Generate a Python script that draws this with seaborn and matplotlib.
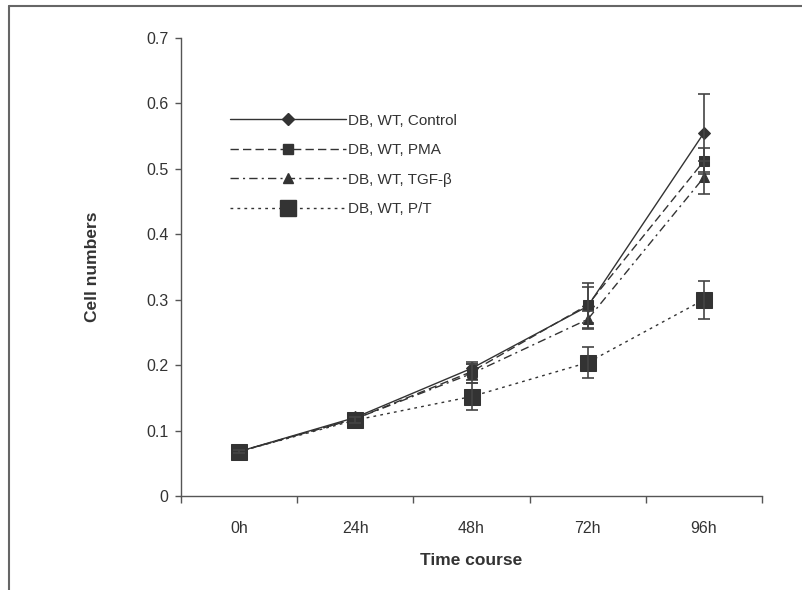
import numpy as np
import pandas as pd
import matplotlib
matplotlib.use("Agg")
import matplotlib.pyplot as plt
import seaborn as sns
from matplotlib.lines import Line2D

# Values
timepoints = ["0h", "24h", "48h", "72h", "96h"]
series_names = ["DB, WT, Control", "DB, WT, PMA", "DB, WT, TGF-\u03b2", "DB, WT, P/T"]
control = [0.068, 0.120, 0.195, 0.290, 0.555]
control_err = [0.003, 0.004, 0.010, 0.035, 0.060]
pma = [0.068, 0.118, 0.190, 0.292, 0.512]
pma_err = [0.003, 0.004, 0.012, 0.028, 0.020]
tgf = [0.068, 0.118, 0.187, 0.270, 0.487]
tgf_err = [0.003, 0.004, 0.015, 0.013, 0.025]
pt = [0.068, 0.116, 0.152, 0.204, 0.300]
pt_err = [0.003, 0.004, 0.021, 0.023, 0.029]

sns.set_theme(style="white")
plt.rcParams["font.family"] = ["Liberation Sans", "DejaVu Sans"]

col = "#333333"
styles = [
    dict(linestyle="-", marker="D", markersize=6.5),
    dict(linestyle=(0, (6, 3)), marker="s", markersize=6.5),
    dict(linestyle=(0, (6, 3, 1.5, 3)), marker="^", markersize=7.5),
    dict(linestyle=(0, (2, 3)), marker="s", markersize=11.5),
]
values = [control, pma, tgf, pt]
errors = [control_err, pma_err, tgf_err, pt_err]

fig = plt.figure(figsize=(8.03, 5.90), dpi=100)
ax = fig.add_axes([0.2254, 0.1593, 0.949 - 0.2254, 0.9356 - 0.1593])

xpos = np.arange(len(timepoints))
handles = []
for name, vals, errs, st in zip(series_names, values, errors, styles):
    df = pd.DataFrame({"x": xpos, "y": vals})
    sns.lineplot(data=df, x="x", y="y", ax=ax, color=col, linewidth=1.0,
                 linestyle=st["linestyle"], marker=st["marker"],
                 markersize=st["markersize"], markeredgecolor=col,
                 markerfacecolor=col, legend=False)
    ax.errorbar(xpos, vals, yerr=errs, fmt="none", ecolor="#444444",
                elinewidth=1.2, capsize=4, capthick=1.2)
    handles.append(Line2D([0], [0], color=col, linewidth=1.0,
                          linestyle=st["linestyle"], marker=st["marker"],
                          markersize=st["markersize"], markerfacecolor=col,
                          markeredgecolor=col))

ax.legend(handles, series_names, loc="upper left", bbox_to_anchor=(0.084, 0.835),
          frameon=False, handlelength=7.6, fontsize=11, labelspacing=1.02,
          handletextpad=0.15, borderpad=0, borderaxespad=0, labelcolor="#333333")

ax.set_xlim(-0.5, 4.5)
ax.set_ylim(0, 0.7)
ax.set_yticks(np.arange(0, 0.71, 0.1))
ax.set_yticklabels(["0", "0.1", "0.2", "0.3", "0.4", "0.5", "0.6", "0.7"])
ax.set_xticks(xpos)
ax.set_xticklabels(timepoints)
ax.set_xticks(np.arange(-0.5, 4.6, 1.0), minor=True)
ax.tick_params(axis="x", which="major", length=0, pad=18, labelsize=11.5, colors="#333333")
ax.tick_params(axis="x", which="minor", length=5, width=1, color="#555555", direction="out", bottom=True)
ax.tick_params(axis="y", length=4, width=1, color="#555555", direction="out", left=True,
               labelsize=11.5, labelcolor="#333333", pad=5)

for side in ["top", "right"]:
    ax.spines[side].set_visible(False)
for side in ["left", "bottom"]:
    ax.spines[side].set_color("#555555")
    ax.spines[side].set_linewidth(1.0)

ax.set_xlabel("Time course", fontsize=12.5, fontweight="bold", color="#333333", labelpad=12)
ax.set_ylabel("Cell numbers", fontsize=12.5, fontweight="bold", color="#333333", labelpad=33)

# outer frame of the original figure
fig.add_artist(Line2D([0.011, 1.0], [0.99, 0.99], transform=fig.transFigure,
                      color="#666666", linewidth=1.5))
fig.add_artist(Line2D([0.011, 0.011], [0.0, 0.99], transform=fig.transFigure,
                      color="#666666", linewidth=1.5))

fig.savefig("out.png", dpi=100)
